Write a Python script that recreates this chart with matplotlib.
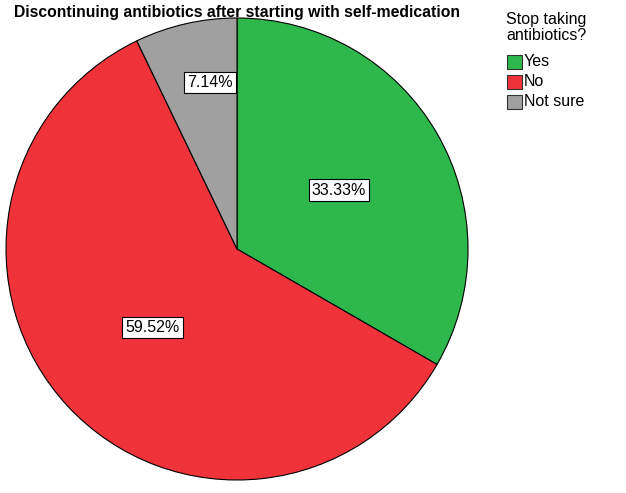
import matplotlib
matplotlib.use("Agg")
import matplotlib.pyplot as plt
from matplotlib.patches import Rectangle
import numpy as np

plt.rcParams['font.family'] = ['Liberation Sans', 'DejaVu Sans']

categories = ["Yes", "No", "Not sure"]
percentages = [33.33, 59.52, 7.14]
colors = ["#2EB84C", "#F0333A", "#A0A0A0"]
title = "Discontinuing antibiotics after starting with self-medication"
legend_title = "Stop taking\nantibiotics?"

W, H = 626, 493
fig = plt.figure(figsize=(W / 100, H / 100), dpi=100)
ax = fig.add_axes([0, 0, 1, 1])
ax.set_xlim(0, W)
ax.set_ylim(0, H)
ax.set_aspect('equal')
ax.axis('off')

cx, cy, R = 237, H - 249, 231
wedges, _ = ax.pie(percentages, colors=colors, startangle=90, counterclock=False,
                   center=(cx, cy), radius=R, frame=True,
                   wedgeprops=dict(edgecolor='black', linewidth=0.8))
ax.set_xlim(0, W)
ax.set_ylim(0, H)
ax.axis('off')

fracs = [0.51, 0.50, 0.73]
dangle = [0.0, 0.0, -3.7]
for w, p, f, da in zip(wedges, percentages, fracs, dangle):
    th = np.deg2rad((w.theta1 + w.theta2) / 2 + da)
    ax.text(cx + R * f * np.cos(th), cy + R * f * np.sin(th), f"{p:.2f}%",
            ha='center', va='center', fontsize=11.5,
            bbox=dict(boxstyle='square,pad=0.2', fc='white', ec='black', lw=0.8))

ax.text(14, H - 12, title, ha='left', va='center', fontsize=11.3, fontweight='bold')

# legend
ax.text(506, H - 12, legend_title, ha='left', va='top', fontsize=11.5, linespacing=1.12)
for i, (c, lab) in enumerate(zip(colors, categories)):
    y_top = 55 + 20 * i
    ax.add_patch(Rectangle((507, H - y_top - 14), 15, 14, fc=c, ec='#333333', lw=0.8))
    ax.text(524, H - y_top - 7, lab, ha='left', va='center', fontsize=11.5)

fig.savefig("out.png", dpi=100)
